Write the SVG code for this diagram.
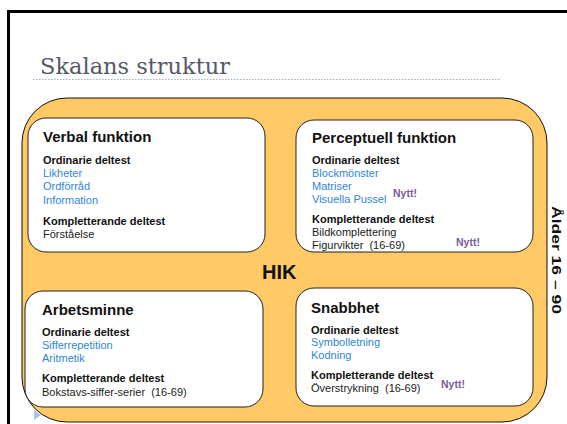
<svg xmlns="http://www.w3.org/2000/svg" width="567" height="424" viewBox="0 0 567 424">
<style>
.hd{font-family:"Liberation Sans",Arial,sans-serif;font-weight:bold;font-size:15px;fill:#111}
.sub{font-family:"Liberation Sans",Arial,sans-serif;font-weight:bold;font-size:11px;fill:#111}
.it{font-family:"Liberation Sans",Arial,sans-serif;font-size:11px;fill:#2f86d3}
.tx{font-family:"Liberation Sans",Arial,sans-serif;font-size:11px;fill:#222}
.ny{font-family:"Liberation Sans",Arial,sans-serif;font-weight:bold;font-size:10.5px;fill:#7a5a98}
.box{fill:#fff;stroke:#222;stroke-width:1}
</style>
<rect width="567" height="424" fill="#fff"/>
<path d="M8.5 424 V11.5 H567" fill="none" stroke="#000" stroke-width="3"/>
<text x="40" y="74" font-family="DejaVu Serif,'Liberation Serif',serif" font-size="22" fill="#555866" textLength="190" lengthAdjust="spacingAndGlyphs">Skalans struktur</text>
<line x1="33" y1="79.5" x2="500" y2="79.5" stroke="#9fb0c4" stroke-width="1" stroke-dasharray="1.5,1.5"/>
<g id="frame">
<rect x="22" y="98" width="525" height="324" rx="45" ry="45" fill="#ffc966" stroke="#111" stroke-width="1"/>
</g>
<g id="connectors"></g>
<g id="verbal">
<rect class="box" x="28" y="118" width="237" height="134" rx="18"/>
<text class="hd" x="43" y="142">Verbal funktion</text>
<text class="sub" x="43" y="164">Ordinarie deltest</text>
<text class="it" x="43" y="177">Likheter</text>
<text class="it" x="43" y="190">Ordförråd</text>
<text class="it" x="43" y="204">Information</text>
<text class="sub" x="43" y="225">Kompletterande deltest</text>
<text class="tx" x="43" y="238">Förståelse</text>
</g>
<g id="perceptuell">
<rect class="box" x="296" y="120" width="237" height="132" rx="18"/>
<text class="hd" x="312" y="143">Perceptuell funktion</text>
<text class="sub" x="312" y="164">Ordinarie deltest</text>
<text class="it" x="312" y="177">Blockmönster</text>
<text class="it" x="312" y="190">Matriser</text>
<text class="it" x="312" y="203">Visuella Pussel</text>
<text class="ny" x="393" y="197">Nytt!</text>
<text class="sub" x="312" y="223">Kompletterande deltest</text>
<text class="tx" x="312" y="236">Bildkomplettering</text>
<text class="tx" x="312" y="249" xml:space="preserve">Figurvikter  (16-69)</text>
<text class="ny" x="456" y="246">Nytt!</text>
</g>
<g id="arbetsminne">
<rect class="box" x="25" y="291" width="238" height="116" rx="18"/>
<text class="hd" x="42" y="315">Arbetsminne</text>
<text class="sub" x="42" y="336">Ordinarie deltest</text>
<text class="it" x="42" y="349">Sifferrepetition</text>
<text class="it" x="42" y="362">Aritmetik</text>
<text class="sub" x="42" y="382">Kompletterande deltest</text>
<text class="tx" x="42" y="396" xml:space="preserve">Bokstavs-siffer-serier  (16-69)</text>
</g>
<g id="snabbhet">
<rect class="box" x="296" y="288" width="237" height="118" rx="18"/>
<text class="hd" x="311" y="313">Snabbhet</text>
<text class="sub" x="311" y="334">Ordinarie deltest</text>
<text class="it" x="311" y="346">Symbolletning</text>
<text class="it" x="311" y="359">Kodning</text>
<text class="sub" x="311" y="379">Kompletterande deltest</text>
<text class="tx" x="311" y="392" xml:space="preserve">Överstrykning  (16-69)</text>
<text class="ny" x="441" y="388">Nytt!</text>
</g>
<g id="hik">
<text x="262" y="279" font-family="Liberation Sans,Arial,sans-serif" font-weight="bold" font-size="20" fill="#111">HIK</text>
</g>
<g id="alder">
<text transform="translate(552,206) rotate(90)" font-family="Liberation Sans,Arial,sans-serif" font-weight="bold" font-size="13" fill="#111" textLength="108" lengthAdjust="spacingAndGlyphs">Ålder 16 – 90</text>
</g>
<polygon points="34,410 41,415 34,420" fill="#a9c5e2"/>
</svg>
